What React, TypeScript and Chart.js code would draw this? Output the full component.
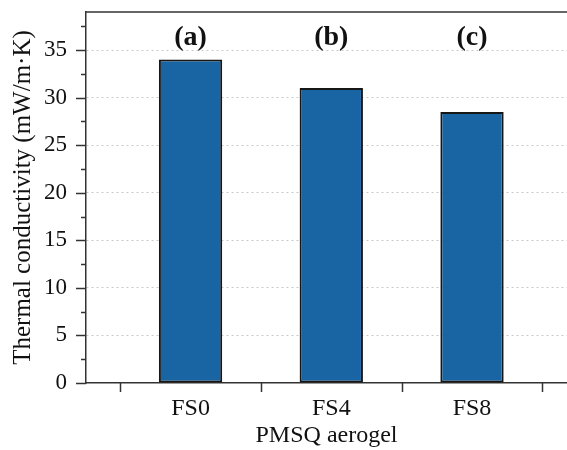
import React, { useEffect, useRef } from "react";
import { Chart, registerables } from "chart.js";

Chart.register(...registerables);

const categories = ["FS0", "FS4", "FS8"];
const positions = [1, 2, 3];
const conductivity = [34, 31, 28.5];
const panelLabels = ["(a)", "(b)", "(c)"];
const panelLabelValue = 36.3;
const xTickPositions = [0.5, 1.5, 2.5, 3.5];
const yMajorStep = 5;
const yMinorStep = 2.5;

const SERIF = "'Liberation Serif', 'Times New Roman', serif";
const AXIS_COLOR = "#333333";

const decorPlugin = {
  id: "decor",
  afterDraw(chart: any) {
    const { ctx, chartArea } = chart;
    const xs = chart.scales.x;
    const ys = chart.scales.y;
    ctx.save();
    ctx.strokeStyle = AXIS_COLOR;
    ctx.lineWidth = 1.5;
    // top frame line
    ctx.beginPath();
    ctx.moveTo(chartArea.left, chartArea.top);
    ctx.lineTo(chartArea.right, chartArea.top);
    ctx.stroke();
    // x ticks
    xTickPositions.forEach((v) => {
      const px = Math.round(xs.getPixelForValue(v)) + 0.5;
      ctx.beginPath();
      ctx.moveTo(px, chartArea.bottom);
      ctx.lineTo(px, chartArea.bottom + 9);
      ctx.stroke();
    });
    // y ticks (major & minor)
    for (let v = 0; v <= ys.max + 1e-9; v += yMinorStep) {
      const py = Math.round(ys.getPixelForValue(v)) + 0.5;
      const major = Math.abs(v / yMajorStep - Math.round(v / yMajorStep)) < 1e-6;
      const len = major ? 10 : 5;
      ctx.beginPath();
      ctx.moveTo(chartArea.left, py);
      ctx.lineTo(chartArea.left - len, py);
      ctx.stroke();
    }
    // panel labels
    ctx.fillStyle = "#111";
    ctx.font = `bold 28px ${SERIF}`;
    ctx.textAlign = "center";
    ctx.textBaseline = "middle";
    panelLabels.forEach((t, i) => {
      ctx.fillText(t, xs.getPixelForValue(positions[i]), ys.getPixelForValue(panelLabelValue));
    });
    ctx.restore();
  },
};

export default function App() {
  const canvasRef = useRef<HTMLCanvasElement | null>(null);

  useEffect(() => {
    if (!canvasRef.current) return;
    const chart = new Chart(canvasRef.current, {
      type: "bar",
      data: {
        datasets: [
          {
            data: positions.map((p, i) => ({ x: p, y: conductivity[i] })),
            backgroundColor: "#1964a3",
            borderColor: "#161616",
            borderWidth: 2,
            borderSkipped: false,
            categoryPercentage: 1,
            barPercentage: 0.45,
          },
        ],
      },
      options: {
        animation: false,
        responsive: true,
        maintainAspectRatio: false,
        layout: { padding: { top: 12, right: 0, left: 0, bottom: 0 } },
        plugins: {
          legend: { display: false },
          tooltip: { enabled: false },
        },
        scales: {
          x: {
            type: "linear",
            offset: false,
            min: 0.257,
            max: 3.675,
            afterBuildTicks: (scale: any) => {
              scale.ticks = positions.map((v) => ({ value: v }));
            },
            afterFit: (scale: any) => {
              scale.height = 67;
              scale.paddingLeft = 0;
              scale.paddingRight = 0;
            },
            ticks: {
              autoSkip: false,
              maxRotation: 0,
              padding: 11,
              color: "#111",
              font: { family: SERIF, size: 24 },
              callback: (v: any) => {
                const idx = positions.indexOf(Number(v));
                return idx >= 0 ? categories[idx] : "";
              },
            },
            grid: { display: false, drawTicks: false },
            border: { display: true, color: AXIS_COLOR, width: 1.5 },
            title: {
              display: true,
              text: "PMSQ aerogel",
              color: "#111",
              font: { family: SERIF, size: 24 },
              padding: { top: 0, bottom: 0 },
            },
          },
          y: {
            type: "linear",
            min: 0,
            max: 39,
            afterFit: (scale: any) => {
              scale.width = 86;
              scale.paddingTop = 0;
              scale.paddingBottom = 0;
            },
            ticks: {
              stepSize: yMajorStep,
              includeBounds: false,
              padding: 19,
              color: "#111",
              font: { family: SERIF, size: 23 },
            },
            grid: {
              drawTicks: false,
              lineWidth: 1,
              color: (ctx: any) =>
                ctx.tick && ctx.tick.value > 0 ? "#c8c8c8" : "rgba(0,0,0,0)",
            },
            border: { display: true, color: AXIS_COLOR, width: 1.5, dash: [2, 3] },
            title: {
              display: true,
              text: "Thermal conductivity (mW/m·K)",
              color: "#111",
              font: { family: SERIF, size: 25 },
              padding: { top: 8, bottom: 0 },
            },
          },
        },
      },
      plugins: [decorPlugin],
    } as any);
    return () => chart.destroy();
  }, []);

  return (
    <div style={{ position: "fixed", left: 0, top: 0, width: 567, height: 450, background: "#fff" }}>
      <canvas ref={canvasRef} />
    </div>
  );
}
